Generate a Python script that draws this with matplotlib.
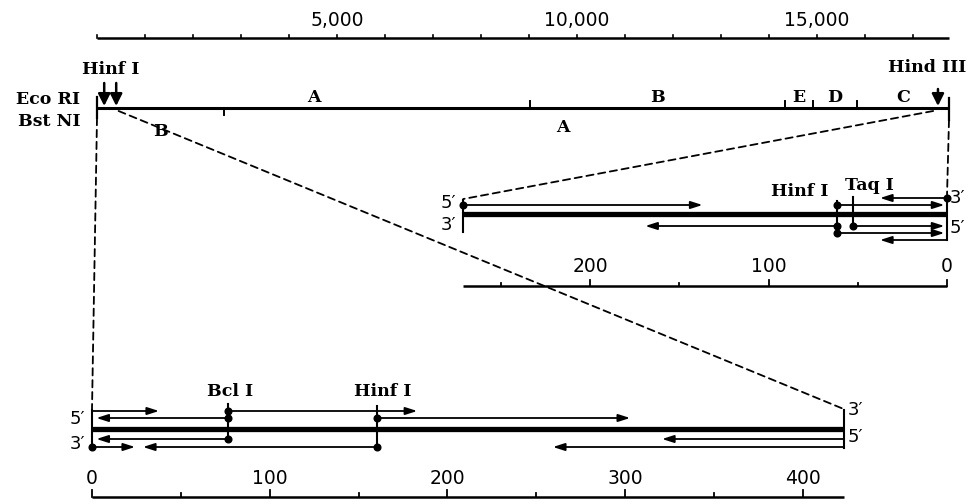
import matplotlib
matplotlib.use('Agg')
import numpy as np
import matplotlib.pyplot as plt
from matplotlib.patches import ConnectionPatch

# ---- whole map (kb) ----
map_len_kb = 17.75
scale_ticks_kb = np.arange(0, 18, 1)
scale_label_kb = [5, 10, 15]
eco_sites_kb = [0, 9.02, 14.33, 14.92, 15.83, 17.75]
eco_frags = ['A', 'B', 'E', 'D', 'C']
bst_sites_kb = [0, 2.65, 17.75]
bst_frags = ['B', 'A']
hinf_kb = [0.15, 0.40]
hind_kb = 17.52

# ---- enlarged right end (bp from the right end) ----
inset_len = 271
inset_ticks = [0, 50, 100, 150, 200, 250]
inset_labels = [0, 100, 200]
inset_hinf = 61.6
inset_taq = 52.7
# (from bp, to bp, row)  row < 0 above the duplex, row > 0 below
inset_reads = [(0, 37.5, -2), (61.6, 1.5, -1), (271, 137, -1),
               (52.7, 1.5, 1), (61.6, 169, 1), (61.6, 1.5, 2), (0, 37.5, 3)]
inset_dots = [(0, -2), (61.6, -1), (271, -1), (52.7, 1), (61.6, 1), (61.6, 2)]

# ---- enlarged left end (bp) ----
lower_len = 423
lower_ticks = np.arange(0, 401, 50)
lower_labels = [0, 100, 200, 300, 400]
lower_bcl = 76.5
lower_hinf = 160.4
lower_reads = [(0, 37.7, -2), (76.5, 183, -2), (76.5, 2.5, -1), (160.4, 302.8, -1),
               (76.5, 2.5, 1), (423, 320.8, 1), (0, 24.2, 2), (160.4, 28.7, 2),
               (423, 259.4, 2)]
lower_dots = [(76.5, -2), (76.5, -1), (76.5, 1), (160.4, -1), (160.4, 2), (0, 2)]

SERIF = 'DejaVu Serif'
SANS = 'DejaVu Sans'
K = 'black'

fig = plt.figure(figsize=(9.73, 5.04), dpi=100)


def make_ax(x_left, x_right, name):
    # full-figure axes, x in data units, y in pixels from the top
    a = fig.add_axes([0, 0, 1, 1], label=name)
    a.set_xlim(x_left, x_right)
    a.set_ylim(504, 0)
    a.axis('off')
    a.patch.set_alpha(0)
    return a


ax = make_ax(-97 / 48, 876 / 48, 'map')                 # kb
ax_in = make_ax(947 / 1.785, -26 / 1.785, 'inset')      # bp, reversed
ax_lo = make_ax(-92 / 1.777, 881 / 1.777, 'lower')      # bp


def arrow(a, x1, y1, x2, y2, lw=1.3, hl=0.5, hw=0.16, ms=14):
    a.annotate('', xy=(x2, y2), xytext=(x1, y1),
               arrowprops=dict(arrowstyle='-|>,head_length=%g,head_width=%g' % (hl, hw),
                               lw=lw, color=K, shrinkA=0, shrinkB=0,
                               mutation_scale=ms))


# ---------- top scale ----------
ax.plot([0, map_len_kb], [38, 38], color=K, lw=1.8, solid_capstyle='butt')
for t in scale_ticks_kb:
    ax.plot([t, t], [38, 35], color=K, lw=1.2)
for t in scale_label_kb:
    ax.text(t, 20, f'{t * 1000:,}', ha='center', va='center', fontsize=13.5, family=SANS)

# ---------- whole map ----------
ax.plot([0, map_len_kb], [108, 108], color=K, lw=2.2, solid_capstyle='butt')
ax.plot([0, 0], [97, 118], color=K, lw=1.6)
ax.plot([map_len_kb, map_len_kb], [98, 120], color=K, lw=1.6)
for s in eco_sites_kb[1:-1]:
    ax.plot([s, s], [108, 101], color=K, lw=1.4)
for i, f in enumerate(eco_frags):
    ax.text((eco_sites_kb[i] + eco_sites_kb[i + 1]) / 2, 97, f, ha='center', va='center',
            fontsize=12.5, family=SERIF, fontweight='bold')
for s in bst_sites_kb[1:-1]:
    ax.plot([s, s], [108, 115], color=K, lw=1.4)
for i, f in enumerate(bst_frags):
    y = 132 if i == 0 else 127
    xm = (bst_sites_kb[i] + bst_sites_kb[i + 1]) / 2
    if i == 1:
        xm -= 0.5
    ax.text(xm, y, f, ha='center', va='center', fontsize=12.5, family=SERIF,
            fontweight='bold', zorder=5,
            bbox=dict(fc='white', ec='none', pad=0.5) if i == 0 else None)
ax.text(-17 / 48, 99, 'Eco RI', ha='right', va='center', fontsize=12.5, family=SERIF,
        fontweight='bold')
ax.text(-17 / 48, 122, 'Bst NI', ha='right', va='center', fontsize=12.5, family=SERIF,
        fontweight='bold')

for h in hinf_kb:
    arrow(ax, h, 83, h, 106, lw=1.8, hl=0.6, hw=0.3, ms=12)
ax.text(np.mean(hinf_kb), 70, 'Hinf I', ha='center', va='center', fontsize=12.5,
        family=SERIF, fontweight='bold')
arrow(ax, hind_kb, 89, hind_kb, 106, lw=1.8, hl=0.6, hw=0.3, ms=12)
ax.text(hind_kb - 0.23, 68, 'Hind III', ha='center', va='center', fontsize=12.5,
        family=SERIF, fontweight='bold')

# ---------- inset (right end) ----------
ymid_in = 214
row_in = {-2: -16, -1: -9, 1: 12, 2: 19, 3: 26}
ax_in.plot([inset_len, 0], [ymid_in, ymid_in], color=K, lw=3.8, solid_capstyle='butt')
ax_in.plot([inset_len, inset_len], [200, 232], color=K, lw=1.5)
ax_in.plot([0, 0], [198, 240], color=K, lw=1.5)
for x1, x2, r in inset_reads:
    y = ymid_in + row_in[r]
    arrow(ax_in, x1, y, x2, y)
ax_in.plot([inset_hinf, inset_hinf], [201, 236], color=K, lw=1.5)
ax_in.plot([inset_taq, inset_taq], [197, 226], color=K, lw=1.5)
for x, r in inset_dots:
    ax_in.plot(x, ymid_in + row_in[r], 'o', color=K, ms=4.8)
ax_in.text(inset_hinf + 5, 191, 'Hinf I', ha='right', va='center', fontsize=12.5,
           family=SERIF, fontweight='bold')
ax_in.text(inset_taq + 4.5, 186, 'Taq I', ha='left', va='center', fontsize=12.5,
           family=SERIF, fontweight='bold')
ax_in.text(inset_len + 4, 203, "5\u2032", ha='right', va='center', fontsize=13, family=SANS)
ax_in.text(inset_len + 4, 225, "3\u2032", ha='right', va='center', fontsize=13, family=SANS)
ax_in.text(-1.5, 198, "3\u2032", ha='left', va='center', fontsize=13, family=SANS)
ax_in.text(-1.5, 228, "5\u2032", ha='left', va='center', fontsize=13, family=SANS)

# inset scale
ax_in.plot([inset_len, 0], [286, 286], color=K, lw=1.8, solid_capstyle='butt')
for t in inset_ticks:
    big = t in inset_labels
    ax_in.plot([t, t], [286, 280 if big else 283], color=K, lw=1.3)
for t in inset_labels:
    ax_in.text(t, 266, str(t), ha='center', va='center', fontsize=13.5, family=SANS)

# ---------- lower (left end) ----------
ymid_lo = 429
row_lo = {-2: -18, -1: -11, 1: 10, 2: 18}
ax_lo.plot([0, lower_len], [ymid_lo, ymid_lo], color=K, lw=3.8, solid_capstyle='butt')
ax_lo.plot([0, 0], [410, 448], color=K, lw=1.5)
ax_lo.plot([lower_len, lower_len], [410, 448], color=K, lw=1.5)
for x1, x2, r in lower_reads:
    y = ymid_lo + row_lo[r]
    arrow(ax_lo, x1, y, x2, y)
ax_lo.plot([lower_bcl, lower_bcl], [404, 439], color=K, lw=1.5)
ax_lo.plot([lower_hinf, lower_hinf], [406, 447], color=K, lw=1.5)
for x, r in lower_dots:
    ax_lo.plot(x, ymid_lo + row_lo[r], 'o', color=K, ms=4.8)
ax_lo.text(lower_bcl + 1, 392, 'Bcl I', ha='center', va='center', fontsize=12.5,
           family=SERIF, fontweight='bold')
ax_lo.text(lower_hinf + 3, 392, 'Hinf I', ha='center', va='center', fontsize=12.5,
           family=SERIF, fontweight='bold')
ax_lo.text(-4, 419, "5\u2032", ha='right', va='center', fontsize=13, family=SANS)
ax_lo.text(-4, 444, "3\u2032", ha='right', va='center', fontsize=13, family=SANS)
ax_lo.text(lower_len + 2, 410, "3\u2032", ha='left', va='center', fontsize=13, family=SANS)
ax_lo.text(lower_len + 2, 437, "5\u2032", ha='left', va='center', fontsize=13, family=SANS)

# lower scale
ax_lo.plot([0, lower_len], [497, 497], color=K, lw=1.8, solid_capstyle='butt')
for t in lower_ticks:
    big = t in lower_labels
    ax_lo.plot([t, t], [497, 490 if big else 493], color=K, lw=1.3)
for t in lower_labels:
    ax_lo.text(t, 478, str(t), ha='center', va='center', fontsize=13.5, family=SANS)

# ---------- dashed connectors ----------
dash = dict(color=K, lw=1.3, linestyle=(0, (4, 2.6)))
links = [
    (ax, (0, 118), ax_lo, (0, 409)),
    (ax, (hinf_kb[1] + 0.05, 111), ax_lo, (lower_len, 409)),
    (ax, (map_len_kb, 120), ax_in, (0, 196)),
    (ax, (hind_kb - 0.1, 111), ax_in, (inset_len, 199)),
]
for aA, pA, aB, pB in links:
    cp = ConnectionPatch(xyA=pA, coordsA=aA.transData, xyB=pB, coordsB=aB.transData,
                         **dash)
    cp.set_zorder(1)
    fig.add_artist(cp)

fig.savefig('out.png', dpi=100)
